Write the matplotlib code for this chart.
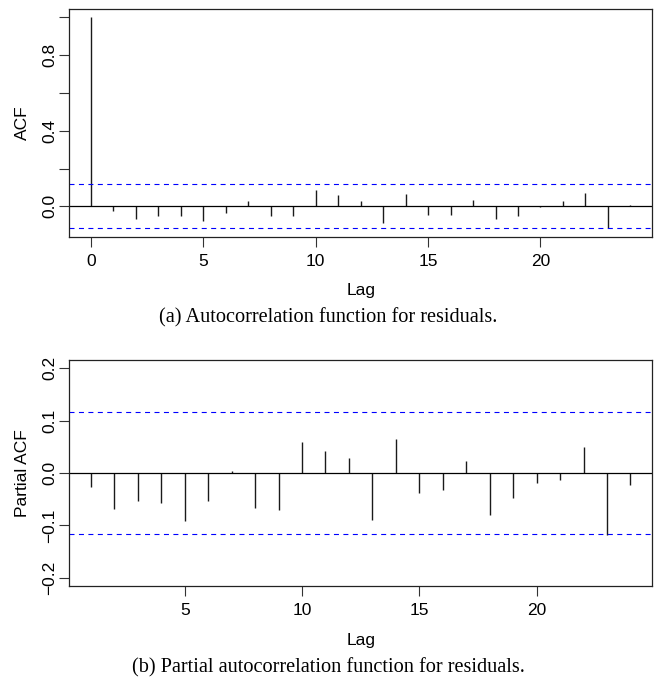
import matplotlib
matplotlib.use("Agg")
import matplotlib.pyplot as plt
import numpy as np

# ---- data ----
acf_lags = list(range(0, 25))
acf_vals = [1.0, -0.027, -0.068, -0.050, -0.050, -0.080, -0.036, 0.030, -0.050, -0.053,
            0.085, 0.059, 0.028, -0.090, 0.068, -0.048, -0.044, 0.036, -0.069, -0.053,
            -0.004, 0.030, 0.073, -0.112, 0.005]
pacf_lags = list(range(1, 25))
pacf_vals = [-0.027, -0.069, -0.053, -0.057, -0.092, -0.053, 0.004, -0.067, -0.070, 0.060,
             0.043, 0.029, -0.090, 0.065, -0.038, -0.032, 0.023, -0.081, -0.048, -0.019,
             -0.014, 0.050, -0.119, -0.023]
ci = 0.116
acf_yticks = [0.0, 0.2, 0.4, 0.6, 0.8, 1.0]
acf_yticklabels = ["0.0", "", "0.4", "", "0.8", ""]
pacf_yticks = [-0.2, -0.1, 0.0, 0.1, 0.2]
pacf_yticklabels = ["\u22120.2", "\u22120.1", "0.0", "0.1", "0.2"]
xticks_acf = [0, 5, 10, 15, 20]
xticks_pacf = [5, 10, 15, 20]
caption_a = "(a) Autocorrelation function for residuals."
caption_b = "(b) Partial autocorrelation function for residuals."

W, H = 655, 679
fig = plt.figure(figsize=(W / 100, H / 100), dpi=100)
plt.rcParams['font.family'] = ['Liberation Sans', 'DejaVu Sans']

def fx(px):
    return px / W

def fy(py):
    return 1 - py / H

left, right = 69.3, 652.0
ax1 = fig.add_axes([fx(left), fy(236.7), fx(right - left), (236.7 - 9.0) / H])
ax2 = fig.add_axes([fx(left), fy(586.0), fx(right - left), (586.0 - 360.0) / H])

def style(ax, lags, vals, xticks, yticks, yticklabels, ylim, ylabel):
    ax.vlines(lags, 0, vals, colors="#1a1a1a", linewidth=1.0)
    ax.axhline(0, color="black", linewidth=0.9)
    for c in (ci, -ci):
        ax.axhline(c, color="#0000ff", linewidth=0.8, linestyle=(0, (4.5, 4.0)))
    span = max(lags) - min(lags)
    ax.set_xlim(min(lags) - 0.04 * span, max(lags) + 0.04 * span)
    ax.set_ylim(*ylim)
    ax.set_xticks(xticks)
    ax.set_yticks(yticks)
    ax.set_yticklabels(yticklabels)
    ax.tick_params(axis="both", direction="out", length=7.2, width=0.8,
                   color="#333333", labelsize=12.5)
    ax.tick_params(axis="x", pad=5.0)
    ax.tick_params(axis="y", pad=1.5, labelrotation=90)
    for lab in ax.get_yticklabels():
        lab.set_va("center")
    for s in ax.spines.values():
        s.set_linewidth(0.9)
        s.set_color("#222222")
    ax.set_xlabel("Lag", fontsize=12.5, labelpad=10.5)
    ax.set_ylabel(ylabel, fontsize=12.5, labelpad=9)

r1 = 1.0 - (-ci)
style(ax1, acf_lags, acf_vals, xticks_acf, acf_yticks, acf_yticklabels,
      (-ci - 0.04 * r1, 1.0 + 0.04 * r1), "ACF")
style(ax2, pacf_lags, pacf_vals, xticks_pacf, pacf_yticks, pacf_yticklabels,
      (-0.2 - 0.016, 0.2 + 0.016), "Partial ACF")

fig.text(0.5015, fy(318), caption_a, family=["Liberation Serif"], fontsize=14.6,
         ha="center", va="center")
fig.text(0.5015, fy(667.5), caption_b, family=["Liberation Serif"], fontsize=14.6,
         ha="center", va="center")

fig.savefig("out.png", dpi=100)
